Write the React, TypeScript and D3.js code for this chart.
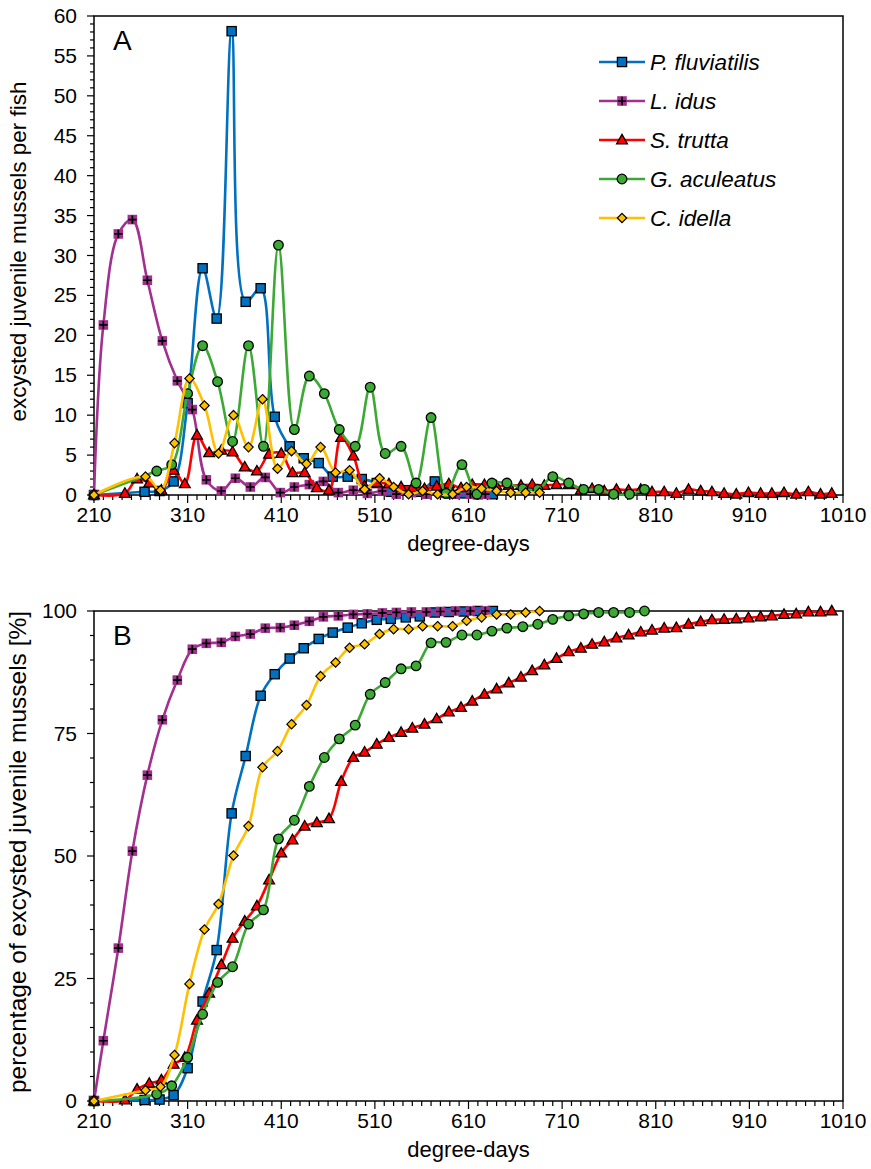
import React, { useEffect, useRef } from 'react';
import * as d3 from 'd3';

// P. fluviatilis
const pfDays = [210, 264, 280, 295, 310, 326, 341, 357, 372, 388, 403, 419, 434, 450, 465, 481, 496, 512, 527, 543, 558, 574, 589, 605, 620, 636];
const pfPerFish = [0, 0.4, 0.5, 1.7, 11.5, 28.4, 22.1, 58.1, 24.2, 25.9, 9.8, 6.1, 4.6, 4.0, 2.3, 2.3, 2.0, 1.5, 0.4, 0.6, 0.4, 1.7, 0.2, 0.2, 0.1, 0.1];
const pfCumPct = [0, 0.2, 0.3, 1.2, 6.7, 20.3, 30.8, 58.7, 70.4, 82.7, 87.1, 90.3, 92.4, 94.3, 95.6, 96.6, 97.5, 98.2, 98.4, 98.7, 98.9, 99.7, 99.8, 99.9, 100, 100];

// L. idus
const liDays = [210, 220, 236, 251, 267, 283, 299, 315, 330, 346, 361, 377, 393, 409, 424, 440, 455, 471, 487, 502, 518, 533, 549, 565, 580, 596, 612, 628];
const liPerFish = [0, 21.3, 32.7, 34.5, 26.9, 19.3, 14.3, 10.7, 1.9, 0.5, 2.1, 1.0, 2.2, 0.3, 1.0, 1.3, 1.7, 0.3, 0.6, 0.2, 0.5, 0.1, 0.3, 0.1, 0.2, 0.1, 0.1, 0.1];
const liCumPct = [0, 12.3, 31.2, 51.0, 66.5, 77.8, 85.9, 92.2, 93.4, 93.6, 94.8, 95.3, 96.5, 96.6, 97.1, 97.9, 98.8, 99.0, 99.3, 99.4, 99.6, 99.7, 99.8, 99.8, 99.9, 100, 100, 100];

// S. trutta
const stDays = [210, 243, 256, 269, 282, 295, 307, 320, 333, 346, 358, 371, 384, 397, 410, 422, 435, 448, 461, 474, 487, 499, 512, 525, 538, 550, 563, 576, 589, 602, 614, 627, 640, 653, 666, 678, 691, 704, 717, 730, 742, 755, 768, 781, 794, 806, 819, 832, 845, 858, 870, 883, 896, 909, 922, 934, 947, 960, 973, 986, 998];
const stPerFish = [0, 0.2, 2.0, 1.5, 0.6, 3.1, 1.4, 7.5, 5.3, 5.6, 5.4, 3.5, 3.0, 5.1, 5.2, 2.8, 2.8, 0.9, 0.6, 7.2, 4.9, 1.1, 1.5, 1.4, 1.0, 0.9, 0.8, 1.1, 1.4, 0.9, 1.3, 1.3, 1.1, 1.2, 1.2, 1.3, 1.2, 1.3, 1.3, 0.6, 0.8, 0.5, 0.7, 0.6, 0.7, 0.4, 0.4, 0.2, 0.7, 0.5, 0.4, 0.2, 0.1, 0.3, 0.2, 0.2, 0.3, 0.1, 0.4, 0.1, 0.2];
const stCumPct = [0, 0.2, 2.4, 3.6, 4.3, 7.5, 8.9, 16.5, 22.0, 27.8, 33.2, 36.7, 39.8, 45.1, 50.6, 53.3, 56.1, 56.8, 57.6, 65.2, 70.1, 71.2, 72.8, 74.2, 75.2, 76.1, 76.9, 78.0, 79.4, 80.3, 81.6, 83.0, 84.1, 85.3, 86.5, 87.8, 89.0, 90.3, 91.7, 92.4, 93.2, 93.7, 94.5, 95.1, 95.7, 96.1, 96.5, 96.6, 97.3, 97.8, 98.2, 98.3, 98.4, 98.6, 98.8, 99.0, 99.3, 99.4, 99.8, 99.8, 100];

// G. aculeatus
const gaDays = [210, 277, 293, 310, 326, 342, 358, 375, 391, 407, 424, 440, 456, 472, 489, 505, 521, 538, 554, 570, 586, 603, 619, 635, 651, 668, 684, 700, 717, 733, 749, 765, 782, 798];
const gaPerFish = [0, 3.0, 3.8, 12.7, 18.7, 14.2, 6.7, 18.7, 6.1, 31.3, 8.2, 14.9, 12.7, 8.2, 6.1, 13.5, 5.2, 6.1, 1.5, 9.7, 0.2, 3.8, 0.1, 1.5, 1.5, 0.8, 0.7, 2.3, 1.5, 0.7, 0.7, 0.1, 0.1, 0.7];
const gaCumPct = [0, 1.4, 3.1, 8.9, 17.7, 24.2, 27.4, 36.1, 39.0, 53.5, 57.3, 64.2, 70.1, 73.9, 76.7, 83.0, 85.4, 88.2, 88.8, 93.5, 93.6, 95.1, 95.1, 95.9, 96.5, 96.8, 97.3, 98.3, 99.0, 99.4, 99.7, 99.7, 99.7, 100];

// C. idella
const ciDays = [210, 265, 281, 296, 312, 328, 343, 359, 375, 390, 406, 421, 437, 452, 468, 483, 499, 515, 530, 546, 561, 577, 593, 608, 624, 640, 655, 671, 686];
const ciPerFish = [0, 2.3, 0.6, 6.5, 14.6, 11.2, 5.2, 10.0, 6.0, 12.0, 3.3, 5.5, 3.9, 6.0, 2.8, 3.1, 0.7, 2.1, 1.0, 0.1, 0.5, 0.1, 0.1, 1.0, 0.8, 0.5, 0.3, 0.3, 0.3];
const ciCumPct = [0, 2.2, 2.9, 9.4, 23.9, 35.0, 40.2, 50.1, 56.1, 68.1, 71.4, 76.9, 80.8, 86.7, 89.5, 92.5, 93.2, 95.3, 96.3, 96.3, 96.9, 96.9, 96.9, 98.0, 98.7, 99.3, 99.3, 99.7, 100];

const speciesNames = ['P. fluviatilis', 'L. idus', 'S. trutta', 'G. aculeatus', 'C. idella'];
const xTicks = [210, 310, 410, 510, 610, 710, 810, 910, 1010];

const FONT = 'Liberation Sans, Arial, sans-serif';

const App = () => {
    const svgRef = useRef<SVGSVGElement>(null);

    useEffect(() => {
        const svg = d3.select(svgRef.current);
        svg.selectAll('*').remove();

        const left = 94;
        const right = 843;

        const series = [
            { name: speciesNames[0], color: '#0070C0', marker: 'square', days: pfDays, a: pfPerFish, b: pfCumPct },
            { name: speciesNames[1], color: '#A1308F', marker: 'plus', days: liDays, a: liPerFish, b: liCumPct },
            { name: speciesNames[2], color: '#FF0000', marker: 'triangle', days: stDays, a: stPerFish, b: stCumPct },
            { name: speciesNames[3], color: '#3DA935', marker: 'circle', days: gaDays, a: gaPerFish, b: gaCumPct },
            { name: speciesNames[4], color: '#FFC000', marker: 'diamond', days: ciDays, a: ciPerFish, b: ciCumPct },
        ];

        const x = d3.scaleLinear().domain([210, 1010]).range([left, right]);

        const drawMarker = (g, type, color) => {
            if (type === 'square') {
                g.append('rect').attr('x', -4.6).attr('y', -4.6).attr('width', 9.2).attr('height', 9.2)
                    .attr('fill', color).attr('stroke', '#000').attr('stroke-width', 1.3);
            } else if (type === 'plus') {
                g.append('rect').attr('x', -4.8).attr('y', -4.8).attr('width', 9.6).attr('height', 9.6)
                    .attr('fill', color);
                g.append('path').attr('d', 'M-4.2,0H4.2M0,-4.2V4.2').attr('stroke', '#000').attr('stroke-width', 1.7);
            } else if (type === 'triangle') {
                g.append('path').attr('d', 'M0,-5.6L5.4,3.9L-5.4,3.9Z')
                    .attr('fill', color).attr('stroke', '#000').attr('stroke-width', 1.3);
            } else if (type === 'circle') {
                g.append('circle').attr('r', 4.8)
                    .attr('fill', color).attr('stroke', '#000').attr('stroke-width', 1.3);
            } else {
                g.append('path').attr('d', 'M0,-4.7L4.7,0L0,4.7L-4.7,0Z')
                    .attr('fill', color).attr('stroke', '#000').attr('stroke-width', 1.2);
            }
        };

        const drawPanel = (opts) => {
            const { top, bottom, yMax, major, minor, key, label, labelSize, letter, letterY } = opts;
            const y = d3.scaleLinear().domain([0, yMax]).range([bottom, top]);
            const panel = svg.append('g');

            // frame
            panel.append('rect')
                .attr('x', left).attr('y', top)
                .attr('width', right - left).attr('height', bottom - top)
                .attr('fill', 'none').attr('stroke', '#000').attr('stroke-width', 1.5);

            // x ticks
            const xMinor = d3.range(210, 1011, 10);
            panel.selectAll('.xt').data(xMinor).enter().append('line')
                .attr('x1', d => x(d)).attr('x2', d => x(d))
                .attr('y1', bottom).attr('y2', d => bottom + ((d - 210) % 100 === 0 ? 8 : 5))
                .attr('stroke', '#000').attr('stroke-width', 1.2);
            panel.selectAll('.xl').data(xTicks).enter().append('text')
                .attr('x', d => x(d)).attr('y', bottom + 27)
                .attr('text-anchor', 'middle')
                .attr('font-family', FONT).attr('font-size', 21)
                .text(d => d);

            // y ticks
            const yMinor = d3.range(0, yMax + 0.001, minor);
            panel.selectAll('.yt').data(yMinor).enter().append('line')
                .attr('x1', left).attr('x2', d => left - (Math.abs(d % major) < 0.001 ? 7 : 4))
                .attr('y1', d => y(d)).attr('y2', d => y(d))
                .attr('stroke', '#000').attr('stroke-width', 1.2);
            panel.selectAll('.yl').data(d3.range(0, yMax + 0.001, major)).enter().append('text')
                .attr('x', left - 17).attr('y', d => y(d) + 7)
                .attr('text-anchor', 'end')
                .attr('font-family', FONT).attr('font-size', 21)
                .text(d => d);

            // axis titles
            panel.append('text')
                .attr('x', (left + right) / 2).attr('y', bottom + 56)
                .attr('text-anchor', 'middle')
                .attr('font-family', FONT).attr('font-size', 22)
                .text('degree-days');
            panel.append('text')
                .attr('transform', `translate(26,${(top + bottom) / 2 - 4}) rotate(-90)`)
                .attr('text-anchor', 'middle')
                .attr('font-family', FONT).attr('font-size', labelSize)
                .text(label);

            panel.append('text')
                .attr('x', 113).attr('y', letterY)
                .attr('font-family', FONT).attr('font-size', 28)
                .text(letter);

            const line = d3.line()
                .x(d => x(d[0]))
                .y(d => y(d[1]))
                .curve(d3.curveCatmullRom.alpha(0.5));

            series.forEach(s => {
                const pts = s.days.map((d, i) => [d, s[key][i]]);
                const g = panel.append('g');
                g.append('path')
                    .datum(pts)
                    .attr('d', line)
                    .attr('fill', 'none')
                    .attr('stroke', s.color)
                    .attr('stroke-width', 2.6);
                pts.forEach(p => {
                    const m = g.append('g').attr('transform', `translate(${x(p[0])},${y(p[1])})`);
                    drawMarker(m, s.marker, s.color);
                });
            });
        };

        drawPanel({ top: 16, bottom: 495, yMax: 60, major: 5, minor: 1, key: 'a',
            label: 'excysted juvenile mussels per fish', labelSize: 22.5, letter: 'A', letterY: 50 });
        drawPanel({ top: 611, bottom: 1101, yMax: 100, major: 25, minor: 5, key: 'b',
            label: 'percentage of excysted juvenile mussels [%]', labelSize: 24.5, letter: 'B', letterY: 645 });

        // legend
        const legend = svg.append('g');
        const rowY = [62, 101, 140, 179, 218];
        series.forEach((s, i) => {
            const row = legend.append('g').attr('transform', `translate(0,${rowY[i]})`);
            row.append('line').attr('x1', 599).attr('x2', 645).attr('y1', 0).attr('y2', 0)
                .attr('stroke', s.color).attr('stroke-width', 2.6);
            const m = row.append('g').attr('transform', 'translate(622,0)');
            drawMarker(m, s.marker, s.color);
            row.append('text')
                .attr('x', 650).attr('y', 8)
                .attr('font-family', FONT).attr('font-size', 22.5).attr('font-style', 'italic')
                .text(s.name);
        });
    }, []);

    return (
        <svg ref={svgRef} width="871" height="1169"
            style={{ position: 'absolute', left: 0, top: 0, background: '#fff' }}></svg>
    );
};

export default App;
